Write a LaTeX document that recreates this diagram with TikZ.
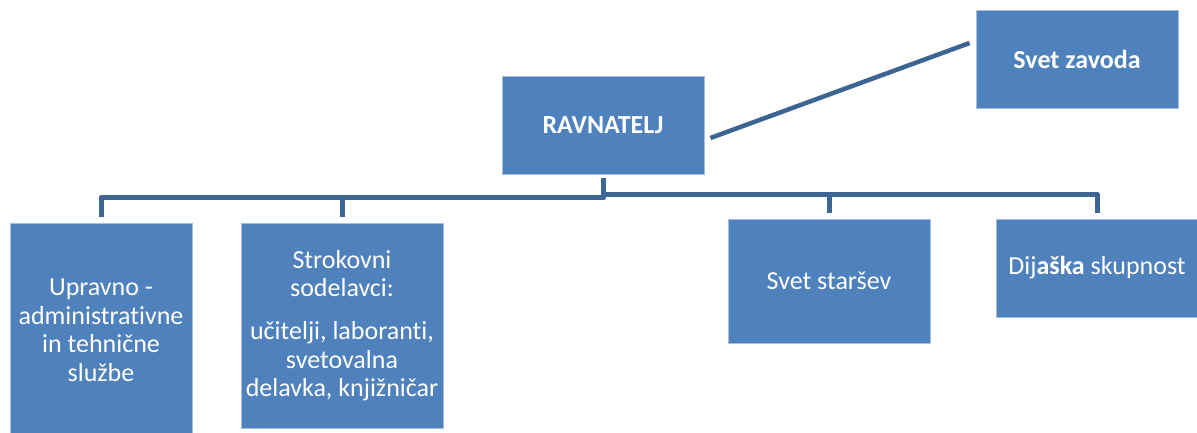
\documentclass[tikz,border=0pt]{standalone}
\usepackage{fontspec}
\setmainfont{Carlito}[Ligatures={NoCommon}]
\usetikzlibrary{calc}
\definecolor{boxblue}{HTML}{4F81BD}
\definecolor{boxedge}{HTML}{A7BEDC}
\definecolor{linkblue}{HTML}{3D6594}
\tikzset{
  box/.style={draw=boxedge, line width=0.8pt, fill=boxblue, text=white, align=center, inner sep=2pt},
  conn/.style={draw=linkblue, line width=5pt, line join=round},
  body/.style={font=\fontsize{26}{28.5}\selectfont},
  head/.style={font=\bfseries\fontsize{26}{28.5}\selectfont}
}
\begin{document}
\begin{tikzpicture}[x=1pt,y=-1pt]
\useasboundingbox (0,0) rectangle (1197,432);
\fill[white] (0,0) rectangle (1197,432);
\node[box, head, minimum width=202pt, minimum height=98pt] (rav) at (603,125) {RAVNATELJ};
\node[box, head, minimum width=202pt, minimum height=98pt] (zav) at (1077,59) {Svet zavoda};
\node[box, body, minimum width=182pt, minimum height=214pt] (upr) at (101,330) {Upravno -\\administrativne\\in tehnične\\službe};
\node[box, body, minimum width=202pt, minimum height=205pt] (str) at (342,325.5) {Strokovni\\sodelavci:\\[14.5pt]učitelji, laboranti,\\svetovalna\\delavka, knjižničar};
\node[box, body, minimum width=202pt, minimum height=124pt] (sta) at (829,281) {Svet staršev};
\node[box, body, minimum width=202pt, minimum height=98pt] (dij) at (1097,268) {Dij\textbf{aška} skupnost};
\draw[conn, line width=4.5pt] ($(rav.east)+(6,13)$) -- ($(zav.west)+(-6,-16)$);
\draw[conn] ([yshift=-4pt]rav.south) -- ++(0,19) -| ([yshift=6pt]upr.north);
\draw[conn] ([yshift=-4pt]rav.south) -- ++(0,19) -| ([yshift=6pt]str.north);
\draw[conn] ([yshift=-4pt]rav.south) -- ++(0,16) -| ([yshift=6pt]sta.north);
\draw[conn] ([yshift=-4pt]rav.south) -- ++(0,16) -| ([yshift=6pt]dij.north);
\end{tikzpicture}
\end{document}
